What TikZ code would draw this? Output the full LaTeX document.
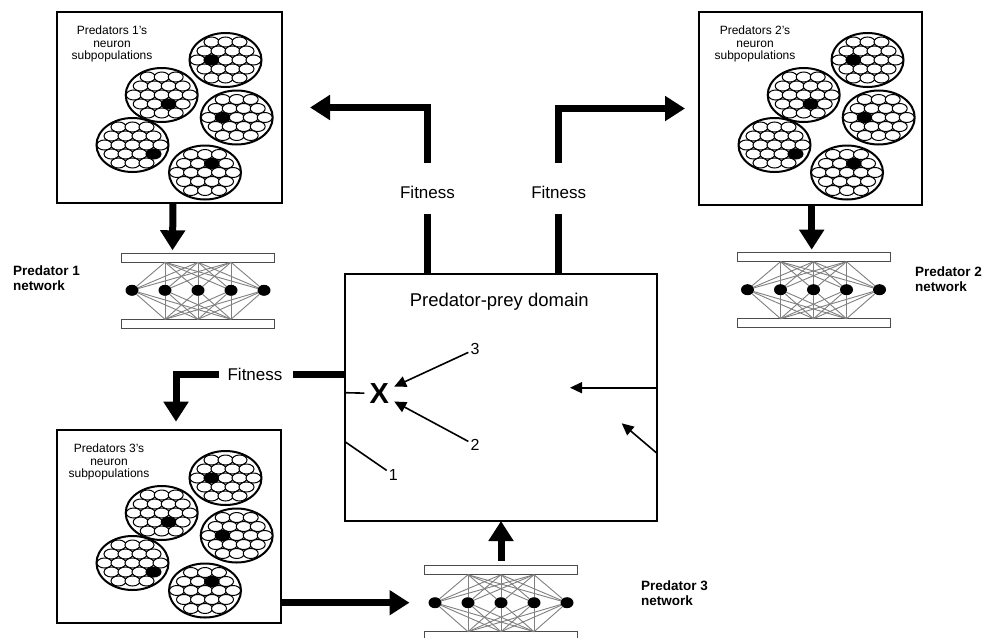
\documentclass[tikz,border=0pt]{standalone}
\usepackage{fontspec}
\setmainfont{Liberation Sans}
\usetikzlibrary{arrows.meta,calc,shapes.geometric}

% one neuron subpopulation: big ellipse packed with cells, one cell active
% #1 box name, #2/#3 offset from the box corner, #4/#5 active cell
\newcommand\subpop[5]{%
  \begin{scope}[shift={($(#1.north west)+(#2,#3)$)}]
    \path[bigcell] (0,0) ellipse [x radius=36pt, y radius=27pt];
    \foreach \cy/\cxs in {-18/{-14,0,14},-9/{-21,-7,7,21},0/{-28,-14,0,14,28},9/{-21,-7,7,21},18/{-14,0,14}}{
      \foreach \cx in \cxs {\path[cell] (\cx,\cy) ellipse [x radius=7.5pt, y radius=5pt];}}
    \fill (#4,#5) ellipse [x radius=7.5pt, y radius=5pt];
  \end{scope}}

% the five subpopulations of one predator
\newcommand\fivepops[1]{%
  \subpop{#1}{168.5}{48}{-14}{0}
  \subpop{#1}{104.7}{83}{7}{9}
  \subpop{#1}{179.7}{105.5}{-14}{0}
  \subpop{#1}{75.5}{133}{21}{9}
  \subpop{#1}{148}{160.5}{7}{-9}}

% a small network: #1 prefix, #2 centre x, #3 top of the upper bar
\newcommand\netw[3]{%
  \node[bar] (#1t) at (#2,#3+4.5) {};
  \node[bar] (#1b) at (#2,#3+70.5) {};
  \foreach \i/\dx in {1/-66,2/-33,3/0,4/33,5/66}
    \node[neuron] (#1\i) at (#2+\dx,#3+37) {};
  \foreach \s in {2,3,4}
    \foreach \d in {1,...,5} {
      \draw[link] (#1t.south -| #1\s) -- (#1\d);
      \draw[link] (#1\d) -- (#1b.north -| #1\s);
    }}

\begin{document}
\begin{tikzpicture}[x=1pt,y=-1pt,
  popbox/.style={draw, line width=2pt, anchor=north west, inner sep=0pt, outer sep=0pt},
  poptext/.style={font=\fontsize{12}{12.5}\selectfont, align=center, inner sep=0pt},
  bigcell/.style={draw, line width=2pt, fill=white},
  cell/.style={draw, line width=1pt, fill=white},
  bar/.style={draw=black!70, line width=1pt, fill=white, minimum width=153pt, minimum height=9pt, inner sep=0pt, outer sep=0pt},
  neuron/.style={ellipse, fill=black, minimum width=13pt, minimum height=11pt, inner sep=0pt, outer sep=0pt},
  link/.style={draw=black!50, line width=0.9pt},
  netlabel/.style={font=\bfseries\fontsize{13.5}{15}\selectfont, align=left, anchor=west, inner sep=0pt},
  fat/.style={line width=7pt},
  fatarrow/.style={line width=7pt, -{Triangle[width=24pt,length=20pt]}},
  fitlabel/.style={font=\fontsize{17}{20}\selectfont, inner sep=0pt},
  thin/.style={line width=1.6pt},
  thinarrow/.style={line width=1.6pt, -{Triangle[width=11pt,length=12pt]}},
  numlabel/.style={font=\fontsize{16}{19}\selectfont, inner sep=2pt},
]
\useasboundingbox (0,0) rectangle (998,637);
\fill[white] (0,0) rectangle (998,637);

% predator boxes with their subpopulations
\node[popbox, minimum width=225pt, minimum height=191pt] (box1) at (57,12) {};
\node[popbox, minimum width=223pt, minimum height=193pt] (box2) at (699,12) {};
\node[popbox, minimum width=224pt, minimum height=193pt] (box3) at (57,430) {};
\fivepops{box1}
\fivepops{box2}
\fivepops{box3}
\node[poptext] (t1) at ($(box1.north west)+(55,32)$) {Predators 1’s\\neuron\\subpopulations};
\node[poptext] (t2) at ($(box2.north west)+(56,32)$) {Predators 2’s\\neuron\\subpopulations};
\node[poptext] (t3) at ($(box3.north west)+(52,32)$) {Predators 3’s\\neuron\\subpopulations};

% networks
\netw{na}{198}{253.3}
\netw{nb}{813.5}{252.7}
\netw{nc}{501}{565.7}
\node[netlabel] (la) at (13,278) {Predator 1\\network};
\node[netlabel] (lb) at (915,279) {Predator 2\\network};
\node[netlabel] (lc) at (641,593) {Predator 3\\network};

% domain
\node[draw, line width=2.2pt, minimum width=312pt, minimum height=247pt, anchor=north west, inner sep=0pt, outer sep=0pt] (dom) at (345,274) {};
\node[font=\fontsize{18.5}{22}\selectfont, inner sep=0pt] (title) at (499.3,302) {Predator-prey domain};
\node[font=\bfseries\fontsize{29}{32}\selectfont, inner sep=5pt] (X) at (379.3,393.5) {X};
\node[numlabel] (n3) at (475,349.3) {3};
\node[numlabel] (n2) at (475,445) {2};
\node[numlabel] (n1) at (393.3,475) {1};
\draw[thinarrow] (n3) -- (X);
\draw[thinarrow] (n2) -- (X);
\coordinate (p1) at ($(dom.north west)+(0,167.7)$);
\coordinate (p0) at ($(dom.north west)+(0,118.7)$);
\draw[thin] (p1) -- (n1);
\draw[thin] (p0) -- (X);
\coordinate (r1) at ($(dom.north east)+(0,113.7)$);
\coordinate (r1end) at (570,387.7);
\coordinate (r2) at ($(dom.north east)+(0,179.3)$);
\coordinate (r2end) at (621.7,423.3);
\draw[thinarrow] (r1) -- (r1end);
\draw[thinarrow] (r2) -- (r2end);

% fitness feedback
\node[fitlabel] (fa) at (427.5,192.3) {Fitness};
\node[fitlabel] (fb) at (558.7,192.3) {Fitness};
\node[fitlabel] (fc) at (255,374.3) {Fitness};
\draw[fat] (dom.north -| fa) -- ($(fa)+(0,21.7)$);
\draw[fatarrow] ($(fa)+(0,-29.6)$) |- ($(box1.east)+(28,0)$);
\draw[fat] (dom.north -| fb) -- ($(fb)+(0,21.7)$);
\draw[fatarrow] ($(fb)+(0,-29.6)$) |- ($(box2.west)+(-14,0)$);
\draw[fat] (dom.west |- fc) -- ($(fc)+(38.3,0)$);
\draw[fatarrow] ($(fc)+(-35.7,0)$) -| ($(box3.north west)+(119,-8.3)$);

% box to network and network to domain
\draw[fatarrow] ($(box1.south west)+(116,0)$) -- ($(nat.north west)+(51,-3)$);
\draw[fatarrow] ($(box2.south west)+(112.7,0)$) -- ($(nbt.north west)+(74.7,-3)$);
\draw[fatarrow] (box3.east |- nc3) -- ($(nc1.west)+(-19,0)$);
\draw[fatarrow] ($(nct.north)+(0,-5)$) -- (dom.south -| nct.north);
\end{tikzpicture}
\end{document}
